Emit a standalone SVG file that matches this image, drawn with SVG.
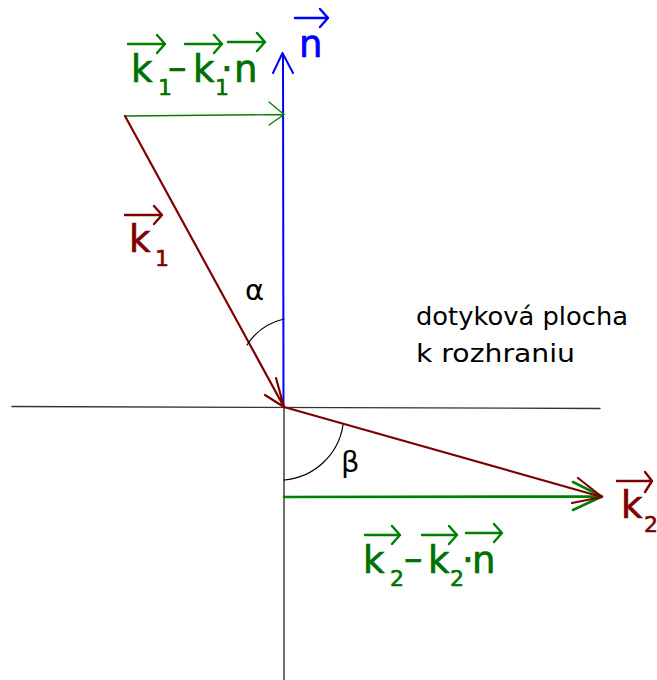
<svg xmlns="http://www.w3.org/2000/svg" width="657" height="680" viewBox="0 0 657 680">
<style>
.t{font-family:"DejaVu Sans","Liberation Sans",sans-serif}
.big{font-size:37px;stroke-width:0.7}
.sub{font-size:22px;stroke-width:0.6}
.g{fill:#007000;stroke:#007000}
.r{fill:#800000;stroke:#800000}
.b{fill:#0000ff;stroke:#0000ff}
.k{fill:#000}
.ln{fill:none;stroke-linecap:round;stroke-linejoin:round}
</style>
<rect width="657" height="680" fill="#fff"/>
<g id="connectors">
  <path class="ln" d="M12,406.5 L600,408.5" stroke="#333" stroke-width="1.3"/>
  <path class="ln" d="M284,407 L284,680" stroke="#222" stroke-width="1.3"/>
  <path class="ln" d="M283.5,407 L283,54 M273,73 L282.5,53 L293,73" stroke="#0000ff" stroke-width="2"/>
  <path class="ln" d="M125,116 L284,114.5 M269,102 L284,114.5 L269,125" stroke="#008000" stroke-width="1.3"/>
  <path class="ln" d="M125,116 L284,407 M265,395 L284,407 L276,378" stroke="#800000" stroke-width="2.2"/>
  <path class="ln" d="M284,497 L602,496.5 M573,482 L602,496.5 L573,510" stroke="#008000" stroke-width="2.6"/>
  <path class="ln" d="M284,407 L602,497 M578,478 L602,497 L572,503" stroke="#800000" stroke-width="2.2"/>
  <path class="ln" d="M247,345 A60,60 0 0 1 284,319" stroke="#000" stroke-width="1.2"/>
  <path class="ln" d="M343,425 A65,65 0 0 1 284,480" stroke="#000" stroke-width="1.2"/>
</g>
<g id="label-k1-minus-k1n">
  <text class="t big g" x="131" y="82">k</text>
  <text class="t sub g" x="158" y="95">1</text>
  <text class="t big g" x="168" y="80">–</text>
  <text class="t big g" x="193" y="82">k</text>
  <text class="t sub g" x="215" y="95">1</text>
  <text class="t big g" x="221" y="82">·</text>
  <text class="t big g" x="234" y="82">n</text>
  <path class="ln" d="M128,44 L165,44 M157,35 L165,44 L157,53 M185,44 L222,44 M214,35 L222,44 L214,53 M228,42 L265,42 M257,33 L265,42 L257,51" stroke="#008000" stroke-width="2.4"/>
</g>
<g id="label-n">
  <text class="t big b" x="299" y="57">n</text>
  <path class="ln" d="M295,18 L328,18 M320,9 L328,18 L320,27" stroke="#0000ff" stroke-width="2.4"/>
</g>
<g id="label-k1">
  <text class="t big r" x="129" y="252">k</text>
  <text class="t sub r" x="155" y="266">1</text>
  <path class="ln" d="M125,215 L162,215 M154,206 L162,215 L154,224" stroke="#800000" stroke-width="2.4"/>
</g>
<g id="label-k2">
  <text class="t big r" x="621" y="518">k</text>
  <text class="t sub r" x="644" y="532">2</text>
  <path class="ln" d="M617,481 L652,481 M645,472 L652,481 L645,492" stroke="#800000" stroke-width="2.4"/>
</g>
<g id="label-k2-minus-k2n">
  <text class="t big g" x="363" y="573">k</text>
  <text class="t sub g" x="390" y="586">2</text>
  <text class="t big g" x="404" y="571">–</text>
  <text class="t big g" x="428" y="573">k</text>
  <text class="t sub g" x="450" y="586">2</text>
  <text class="t big g" x="462" y="573">·</text>
  <text class="t big g" x="472" y="573">n</text>
  <path class="ln" d="M365,535 L400,535 M392,526 L400,535 L392,544 M422,535 L457,535 M449,526 L457,535 L449,544 M466,533 L502,533 M494,524 L502,533 L494,542" stroke="#008000" stroke-width="2.4"/>
</g>
<g id="label-alpha"><text class="t k" x="245" y="300" font-size="29">α</text></g>
<g id="label-beta"><text class="t k" x="341" y="472" font-size="29">β</text></g>
<g id="label-plane">
  <text class="t k" x="416" y="325" font-size="25" textLength="212" lengthAdjust="spacingAndGlyphs">dotyková plocha</text>
  <text class="t k" x="416" y="362" font-size="25" textLength="159" lengthAdjust="spacingAndGlyphs">k rozhraniu</text>
</g>
</svg>
